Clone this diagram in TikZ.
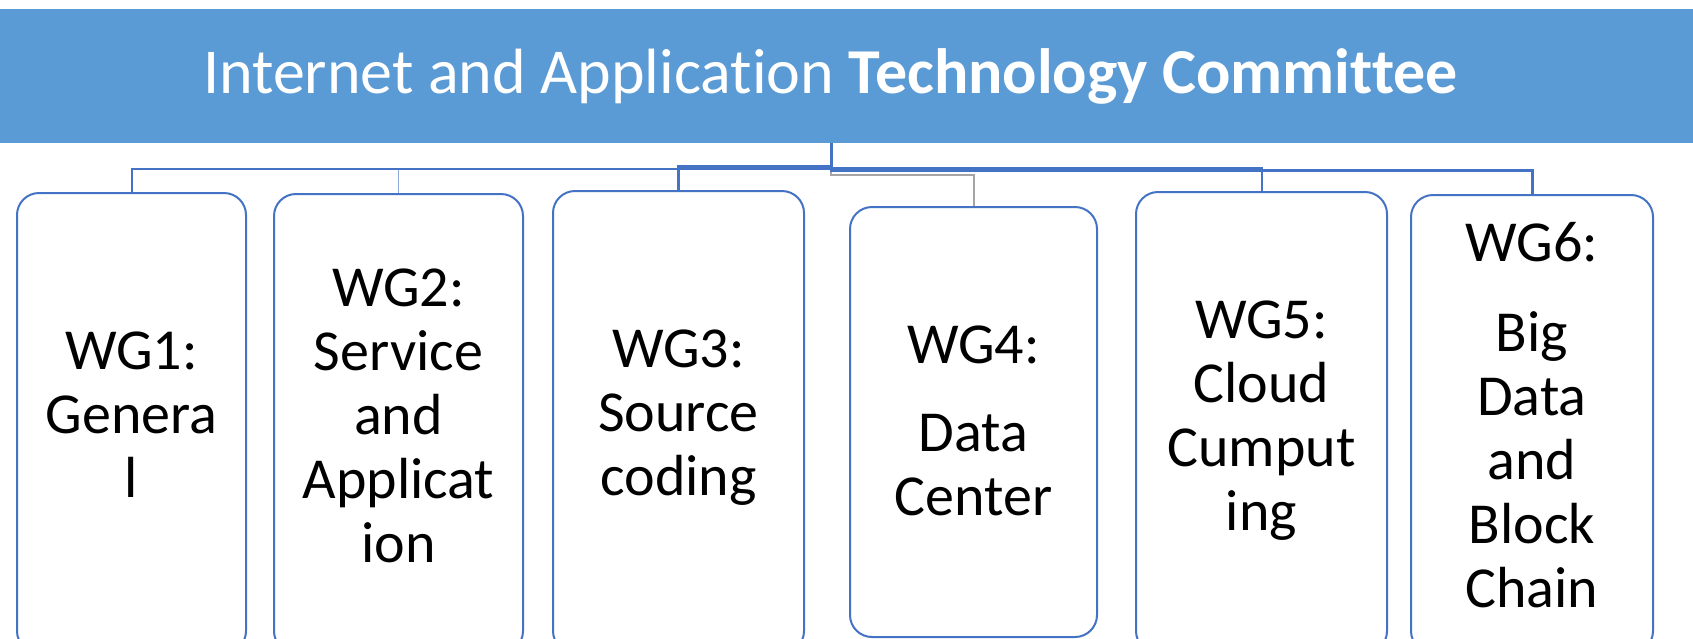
\documentclass[tikz,border=0pt]{standalone}
\usepackage{fontspec}
\setmainfont{Carlito}[Ligatures=NoCommon]
\definecolor{bannerblue}{HTML}{5B9BD5}
\definecolor{wgline}{HTML}{4472C4}
\definecolor{wgthin}{HTML}{8FAADC}
\definecolor{wggrey}{HTML}{A5A5A5}
\begin{document}
\begin{tikzpicture}[x=1pt,y=-1pt,
  wgbox/.style={draw=wgline, line width=2pt, rounded corners=22pt, fill=white,
                anchor=north, inner sep=0pt},
  wgtext/.style={anchor=base, align=center, inner sep=0pt,
                 font=\fontsize{58}{64}\selectfont},
  conn/.style={draw=wgline, line width=2pt},
  connthin/.style={draw=wgthin, line width=1pt},
  conngrey/.style={draw=wggrey, line width=2pt}]
\useasboundingbox (0,0) rectangle (1693,638);
\clip (0,0) rectangle (1693,638);

% committee banner
\node[fill=bannerblue, anchor=north west, inner sep=0pt,
      minimum width=1693pt, minimum height=134.5pt] (itc) at (0,8.3) {};
\node[anchor=base, inner sep=0pt, text=white,
      font=\fontsize{64}{70}\selectfont] (title) at (830.5,93)
  {Internet and Application \textbf{Technology Committee}};

% working group boxes
\node[wgbox, minimum width=229pt, minimum height=460pt] (wg1) at (131.5,192) {};
\node[wgbox, minimum width=249pt, minimum height=459pt] (wg2) at (398.5,193) {};
\node[wgbox, minimum width=251pt, minimum height=462pt] (wg3) at (678.5,190) {};
\node[wgbox, minimum width=247pt, minimum height=430pt] (wg4) at (973.5,206) {};
\node[wgbox, minimum width=251pt, minimum height=461pt] (wg5) at (1261.5,191) {};
\node[wgbox, minimum width=242pt, minimum height=458pt] (wg6) at (1532,194) {};

% box labels (anchored at the baseline of the last line)
\node[wgtext] (wg1t) at (131.5,497) {WG1:\\Genera\\l};
\node[wgtext] (wg2t) at (398.5,562) {WG2:\\Service\\and\\Applicat\\ion};
\node[wgtext] (wg3t) at (678.5,495) {WG3:\\Source\\coding};
\node[wgtext] (wg4t) at (973.5,515) {WG4:\\[24pt]Data\\Center};
\node[wgtext] (wg5t) at (1261.5,530) {WG5:\\Cloud\\Cumput\\ing};
\node[wgtext] (wg6t) at (1532,607) {WG6:\\[26pt]Big\\Data\\and\\Block\\Chain};

% elbow connectors from the committee to each group
\coordinate (hub) at (831,143);
\draw[conngrey] (hub) -- ++(0,32) -| (wg4.north);
\draw[connthin] (hub) -- ++(0,26) -| (wg2.north);
\draw[conn] (hub) -- ++(0,25.5) -| (wg1.north);
\draw[conn, line width=2.5pt] (hub) -- ++(0,23.5) -| (wg3.north);
\draw[conn] (hub) -- ++(0,24.5) -| (wg5.north);
\draw[conn, line width=3pt] (hub) -- ++(0,27) -| (wg6.north);
\end{tikzpicture}
\end{document}
